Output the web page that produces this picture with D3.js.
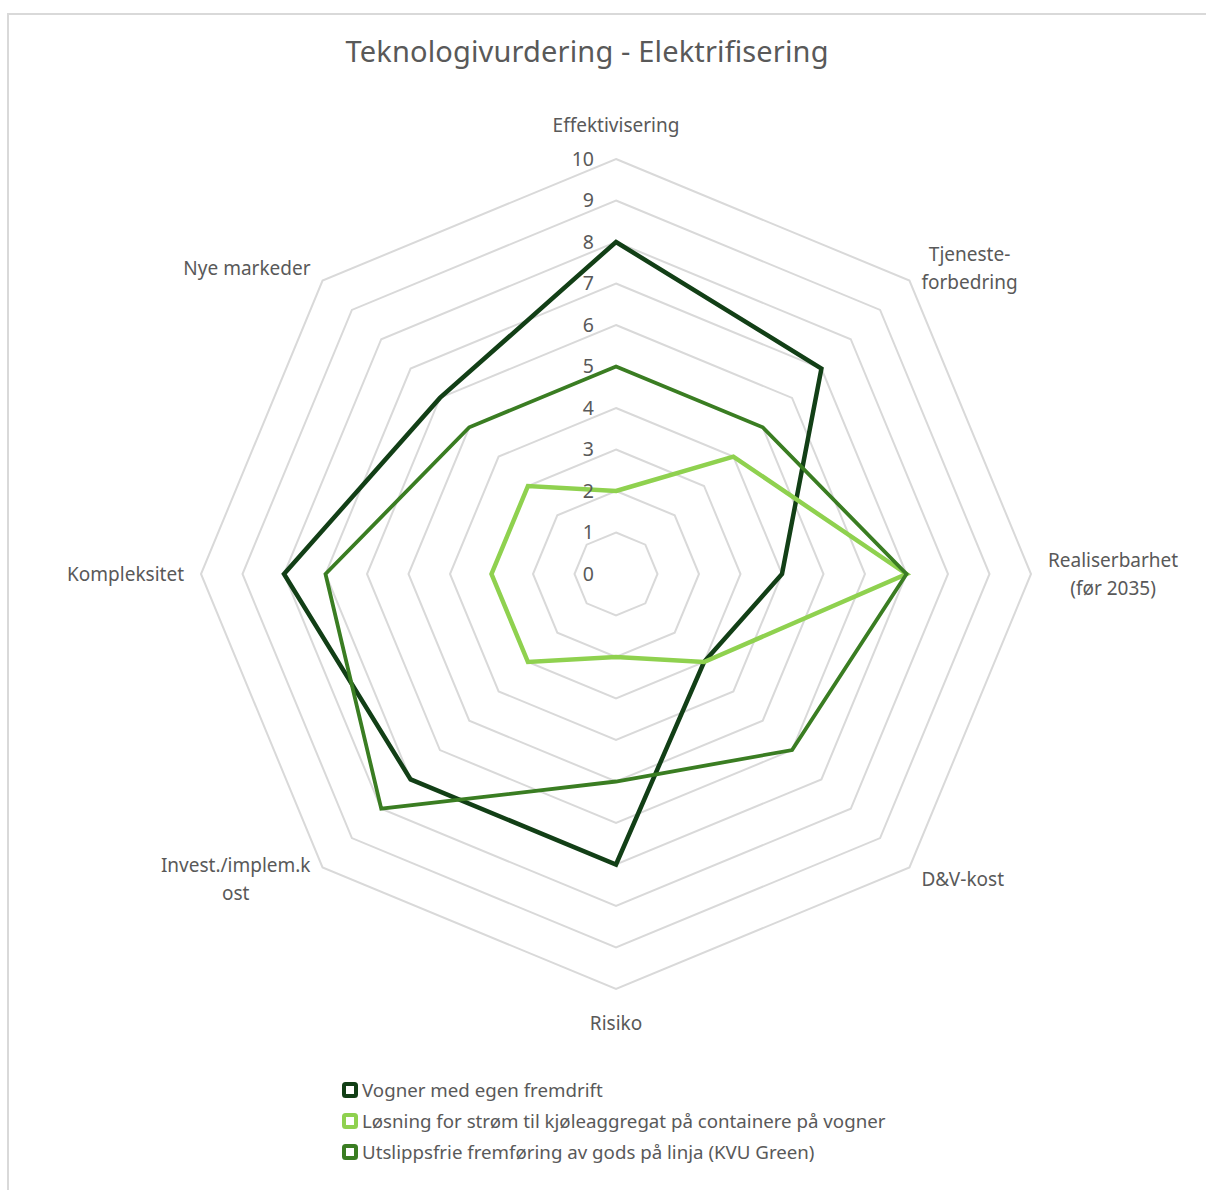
<!DOCTYPE html>
<html>
<head>
<meta charset="utf-8">
<script src="https://d3js.org/d3.v7.min.js"></script>
<style>
  body { margin: 0; background: #fff; }
  text { font-family: "Noto Sans", "Open Sans", sans-serif; fill: #595959; }
</style>
</head>
<body>
<svg class="target" width="1206" height="1190"></svg>
<script>

// axes, clockwise from the top
const axes = [
  ['Effektivisering'],
  ['Tjeneste-', 'forbedring'],
  ['Realiserbarhet', '(før 2035)'],
  ['D&V-kost'],
  ['Risiko'],
  ['Invest./implem.k', 'ost'],
  ['Kompleksitet'],
  ['Nye markeder']
]

const seriesNames = [
  'Vogner med egen fremdrift',
  'Løsning for strøm til kjøleaggregat på containere på vogner',
  'Utslippsfrie fremføring av gods på linja (KVU Green)'
]

const vogner   = [8, 7, 4, 3, 7, 7, 8, 6]
const kjoling  = [2, 4, 7, 3, 2, 3, 3, 3]
const kvuGreen = [5, 5, 7, 6, 5, 8, 7, 5]

const ticks = [0, 1, 2, 3, 4, 5, 6, 7, 8, 9, 10]
const colors = ['#123f16', '#8fd14f', '#3a7d22']
const widths = [4.5, 4.5, 3.8]

const cx = 616, cy = 574

const svg = d3.select('.target')

// chart frame, only top and left edges show
svg.append('path')
    .attr('d', 'M8,1190 V14 H1206')
    .attr('fill', 'none')
    .attr('stroke', '#d9d9d9')
    .attr('stroke-width', 2)

svg.append('text')
    .attr('x', 587)
    .attr('y', 62)
    .attr('text-anchor', 'middle')
    .style('font-size', '29px')
    .attr('textLength', 483)
    .text('Teknologivurdering - Elektrifisering')

const r = d3.scaleLinear().domain([0, 10]).range([0, 415])
const angle = d3.scalePoint().domain(d3.range(axes.length)).range([0, 2 * Math.PI * (axes.length - 1) / axes.length])

const g = svg.append('g').attr('transform', `translate(${cx},${cy})`)

const radial = d3.lineRadial()
    .angle((d, i) => angle(i))
    .radius(d => r(d))
    .curve(d3.curveLinearClosed)

// grid rings
g.selectAll('path.ring')
  .data(ticks)
  .join('path')
    .attr('class', 'ring')
    .attr('d', t => radial(axes.map(() => t)))
    .attr('fill', 'none')
    .attr('stroke', '#d9d9d9')
    .attr('stroke-width', 2)

// series
g.selectAll('path.series')
  .data([vogner, kjoling, kvuGreen])
  .join('path')
    .attr('class', 'series')
    .attr('d', d => radial(d))
    .attr('fill', 'none')
    .attr('stroke', (d, i) => colors[i])
    .attr('stroke-width', (d, i) => widths[i])
    .attr('stroke-linejoin', 'miter')

// tick labels on the top axis
g.selectAll('text.tick')
  .data(ticks)
  .join('text')
    .attr('class', 'tick')
    .attr('x', -22)
    .attr('y', t => -r(t))
    .attr('dy', '0.35em')
    .attr('text-anchor', 'end')
    .style('font-size', '19.5px')
    .text(t => t)

// axis labels
const lineH = 28
axes.forEach((lines, i) => {
  const a = angle(i)
  const s = Math.sin(a), c = Math.cos(a)
  const vx = r(10) * s, vy = -r(10) * c
  const lab = g.append('g')
  const tx = lab.selectAll('text')
    .data(lines)
    .join('text')
      .style('font-size', '19px')
      .attr('text-anchor', 'middle')
      .text(d => d)
  const w = d3.max(tx.nodes(), n => n.getComputedTextLength())
  const h = lines.length * lineH
  let mx
  if (Math.abs(s) < 0.1) mx = vx
  else if (s > 0) mx = vx + 17 * Math.abs(s) + w / 2
  else mx = vx - 17 * Math.abs(s) - w / 2
  let my
  if (Math.abs(c) > 0.9) my = vy - Math.sign(c) * (24 + h / 2 - 4)
  else my = vy - 12 * Math.sign(Math.round(c * 10))
  tx.attr('x', mx)
    .attr('y', (d, k) => my - h / 2 + lineH * k + lineH / 2)
    .attr('dy', '0.35em')
})

// legend
const legend = svg.append('g').attr('transform', 'translate(342,1090)')
const item = legend.selectAll('g')
  .data(seriesNames)
  .join('g')
    .attr('transform', (d, i) => `translate(0,${i * 31})`)
item.append('rect')
    .attr('x', 2).attr('y', -6)
    .attr('width', 12).attr('height', 12)
    .attr('rx', 1.5)
    .attr('fill', '#fff')
    .attr('stroke', (d, i) => colors[i])
    .attr('stroke-width', 4)
item.append('text')
    .attr('x', 20)
    .attr('dy', '0.35em')
    .style('font-size', '18.7px')
    .text(d => d)

</script>
</body>
</html>
